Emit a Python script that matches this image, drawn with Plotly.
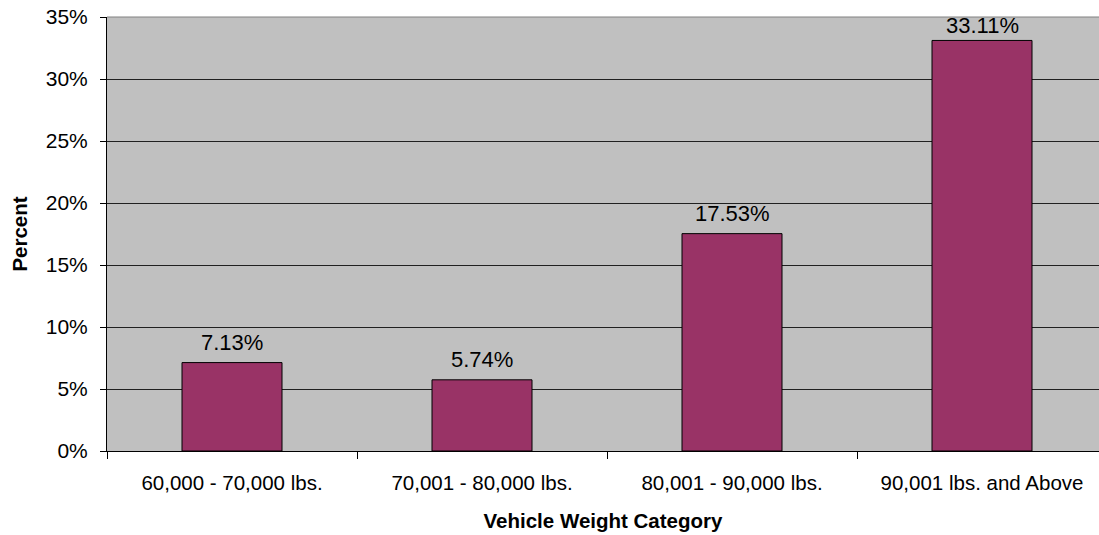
import plotly.graph_objects as go

categories = ["60,000 - 70,000 lbs.", "70,001 - 80,000 lbs.",
              "80,001 - 90,000 lbs.", "90,001 lbs. and Above"]
percent_values = [7.13, 5.74, 17.53, 33.11]
y_tick_values = [0, 5, 10, 15, 20, 25, 30, 35]
y_tick_labels = ["0%", "5%", "10%", "15%", "20%", "25%", "30%", "35%"]

FONT = "Liberation Sans, Arial, sans-serif"
WIDTH, HEIGHT = 1099, 535
MARGIN = dict(l=107, r=0, t=17, b=84)
Y_MAX = 35

fig = go.Figure(
    go.Bar(
        x=categories,
        y=percent_values,
        width=0.4,
        marker=dict(color="#993366", line=dict(color="#000000", width=1)),
        hoverinfo="x+y",
    )
)

# value labels sit a little above each bar, but are kept inside the plot area
px_per_unit = (HEIGHT - MARGIN["t"] - MARGIN["b"]) / Y_MAX
label_box = 30
for cat, val in zip(categories, percent_values):
    room = (Y_MAX - val) * px_per_unit
    shift = 6 if room - label_box > 6 else max(0, room - label_box + 2)
    fig.add_annotation(
        x=cat, y=val, text=f"{val:.2f}%",
        showarrow=False, yanchor="bottom", yshift=shift,
        font=dict(family=FONT, size=22, color="#000000"),
    )

fig.update_layout(
    width=WIDTH,
    height=HEIGHT,
    margin=MARGIN,
    paper_bgcolor="#FFFFFF",
    plot_bgcolor="#C0C0C0",
    showlegend=False,
    font=dict(family=FONT, size=20, color="#000000"),
    bargap=0.6,
)

fig.update_xaxes(
    type="category",
    range=[-0.5, 3.468],
    tickson="boundaries",
    ticks="outside",
    ticklen=7,
    tickcolor="#000000",
    ticklabelstandoff=13,
    showline=True,
    linecolor="#000000",
    linewidth=1,
    showgrid=False,
    tickfont=dict(family=FONT, size=20.5),
    title=dict(text="<b>Vehicle Weight Category</b>",
               font=dict(family=FONT, size=20.5), standoff=21),
)

fig.update_yaxes(
    range=[0, Y_MAX],
    tickvals=y_tick_values,
    ticktext=y_tick_labels,
    ticks="outside",
    ticklen=6,
    tickcolor="#000000",
    ticklabelstandoff=8,
    showline=True,
    linecolor="#000000",
    linewidth=1,
    showgrid=True,
    gridcolor="#202020",
    gridwidth=1,
    zeroline=False,
    tickfont=dict(family=FONT, size=21),
    title=dict(text="<b>Percent</b>", font=dict(family=FONT, size=20.5), standoff=12),
)

# light-grey frame along the top of the plotting area
fig.add_shape(type="line", xref="paper", yref="paper",
              x0=0, x1=1, y0=1, y1=1,
              line=dict(color="#808080", width=1))

fig.write_html("out.html")
